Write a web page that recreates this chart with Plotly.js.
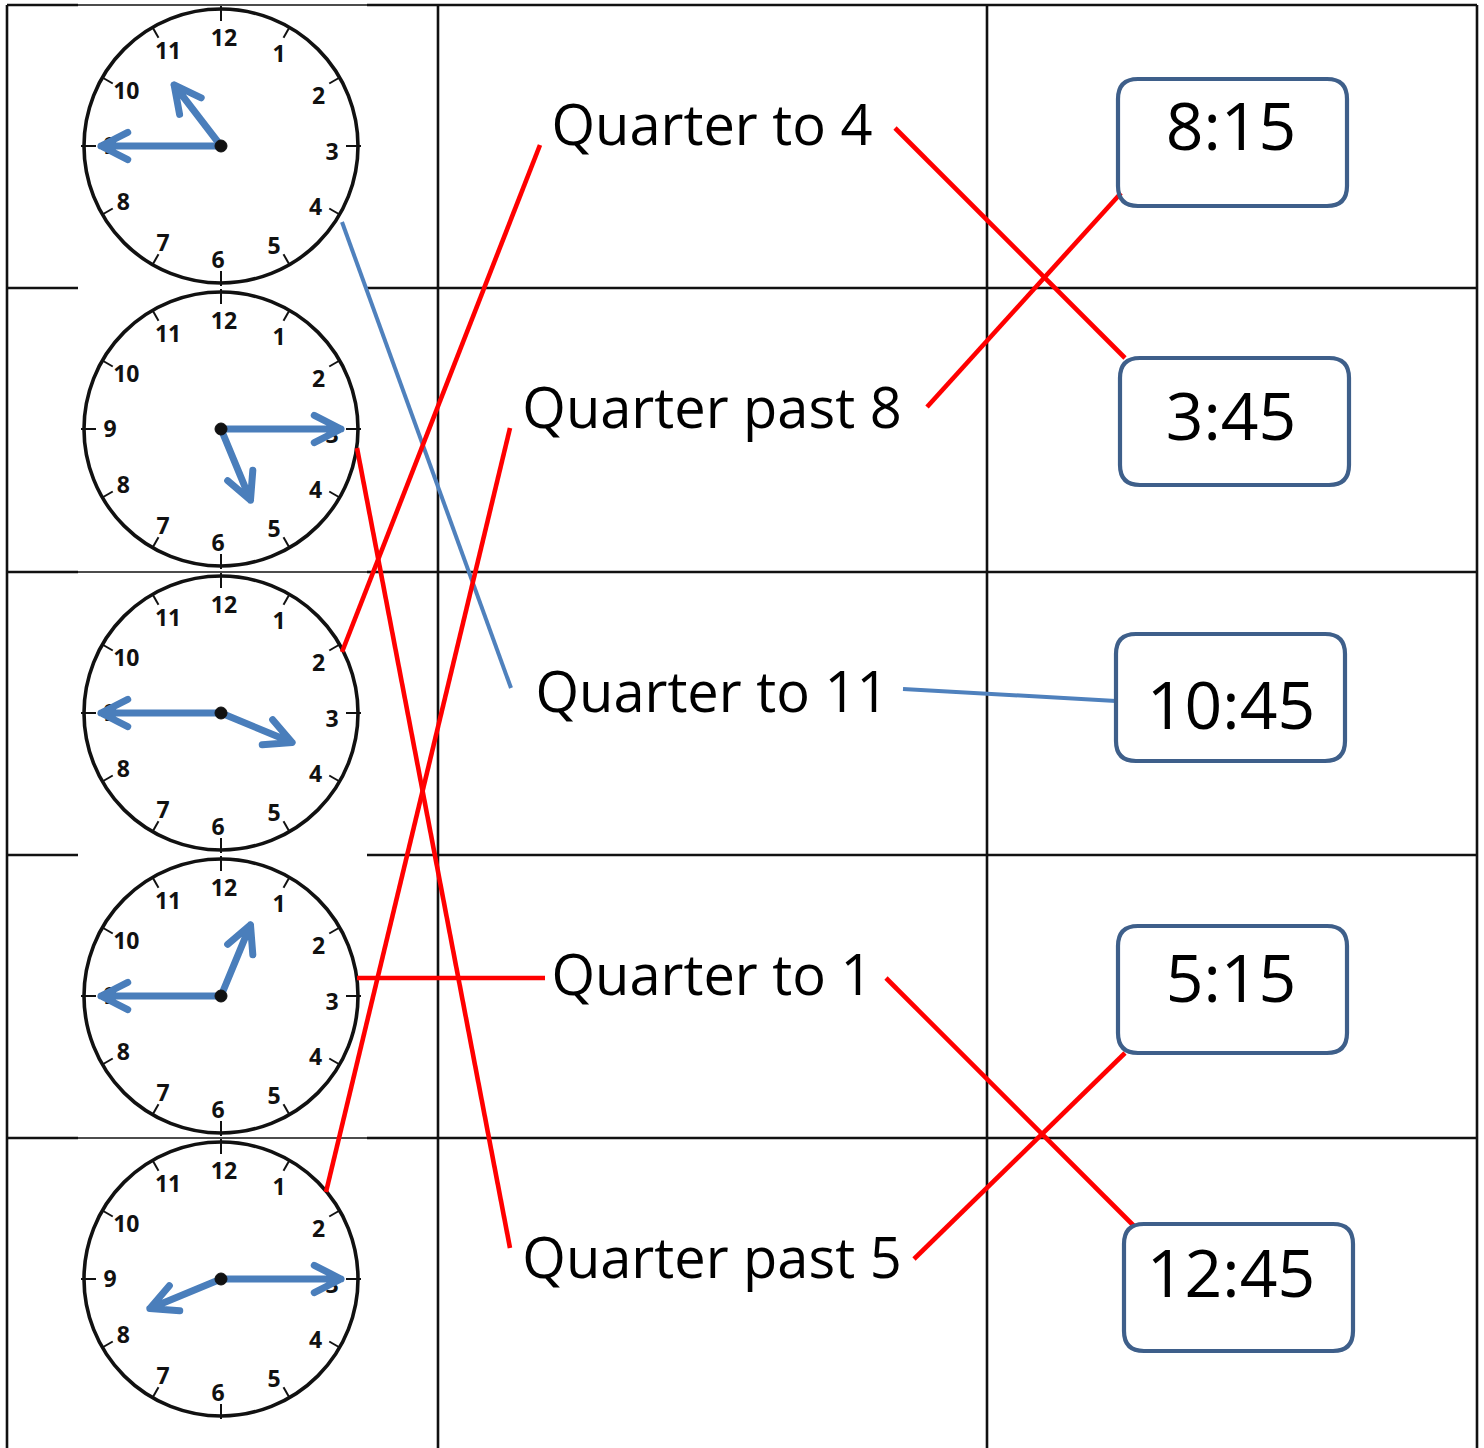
<!DOCTYPE html>
<html>
<head>
<meta charset="utf-8">
<script src="https://cdn.plot.ly/plotly-3.0.1.min.js"></script>
<style>html,body{margin:0;padding:0;background:#fff;}</style>
</head>
<body>
<div id="chart" style="width:1484px;height:1448px;"></div>
<script>
// ---------------- data ----------------
const clockHours   = [10, 5, 3, 12, 8];
const clockMinutes = [45, 15, 45, 45, 15];
const dialNumbers  = [12, 1, 2, 3, 4, 5, 6, 7, 8, 9, 10, 11];
const phrases      = ["Quarter to 4", "Quarter past 8", "Quarter to 11", "Quarter to 1", "Quarter past 5"];
const digitalTimes = ["8:15", "3:45", "10:45", "5:15", "12:45"];
const clockToPhrase = [2, 4, 0, 3, 1];   // clock row -> phrase row
const phraseToTime  = [1, 0, 2, 4, 3];   // phrase row -> digital time row
const exampleClock  = 0;                 // the worked example (drawn in blue)

// ---------------- geometry / style ----------------
const W = 1484, H = 1448;
const rowTops = [5, 288, 572, 855, 1138];
const colX = [7, 438, 987, 1477];
const clockCx = 221, clockDy = 141, clockR = 137;
const clockImgX = [78, 367];
const thinRows = [0, 2, 4];
const numR = 111, numShift = 1.5, textShift = 5;
const minuteLen = 120, hourLen = 77, barbLen = 30, barbDeg = 27;
const phraseX = 712, phraseDy = 121;
const boxX0 = [1118, 1120, 1116, 1118, 1124];
const boxY0 = [79, 358, 634, 926, 1224];
const boxW = 229, boxH = 127, boxRad = 20;
const labelX = 1231;
const labelDy = [49, 60, 73, 54, 51];
// link anchors
const clockAnchor = [[121, 76], [136, 19], [121, -61], [136, -18], [105, -87]];
const phraseLeft  = [[540, 140], [510, 140], [511, 116], [545, 123], [510, 110]];
const phraseRight = [[895, 123], [927, 119], [903, 117], [886, 123], [914, 121]];
const boxAnchor   = [[3, 114], [5, 0], [0, 67], [7, 127], [10, 2]];

const BLACK = '#111111';
const HAND = '#4A7EBB';
const RED = '#FF0000';
const BLUE = '#4F81BD';
const BOX = '#3E5F8A';

const shapes = [];
function line(x0, y0, x1, y1, color, width) {
  shapes.push({type: 'line', xref: 'x', yref: 'y', x0, y0, x1, y1,
    line: {color, width}});
}

// table grid
colX.forEach(x => line(x, rowTops[0], x, H, BLACK, 2.6));
rowTops.forEach((y, i) => {
  line(colX[0], y, clockImgX[0], y, BLACK, 2.6);
  line(clockImgX[1], y, colX[3], y, BLACK, 2.6);
  if (thinRows.includes(i)) line(clockImgX[0], y, clockImgX[1], y, BLACK, 1.3);
});

// clocks
const numX = [], numY = [], numT = [];
function pt(cx, cy, deg, r) {
  const a = deg * Math.PI / 180;
  return [cx + r * Math.sin(a), cy - r * Math.cos(a)];
}
function handPath(cx, cy, deg, len) {
  const [tx, ty] = pt(cx, cy, deg, len);
  const a = deg * Math.PI / 180;
  const ux = -Math.sin(a), uy = Math.cos(a);
  const p = barbDeg * Math.PI / 180;
  const b = s => [tx + barbLen * (ux * Math.cos(s * p) - uy * Math.sin(s * p)),
                  ty + barbLen * (ux * Math.sin(s * p) + uy * Math.cos(s * p))];
  const b1 = b(1), b2 = b(-1);
  return `M${cx},${cy} L${tx},${ty} M${b1[0]},${b1[1]} L${tx},${ty} L${b2[0]},${b2[1]}`;
}
clockHours.forEach((h, i) => {
  const cx = clockCx, cy = rowTops[i] + clockDy;
  shapes.push({type: 'circle', xref: 'x', yref: 'y',
    x0: cx - clockR, x1: cx + clockR, y0: cy - clockR, y1: cy + clockR,
    line: {color: BLACK, width: 3.6}, fillcolor: 'rgba(0,0,0,0)'});
  dialNumbers.forEach(n => {
    const deg = (n % 12) * 30;
    const [ax, ay] = pt(cx, cy, deg, 125);
    const [bx, by] = pt(cx, cy, deg, (n % 3 === 0) ? 140 : 137);
    line(ax, ay, bx, by, BLACK, 2);
    const [tx, ty] = pt(cx, cy, deg + numShift, numR);
    numX.push(tx); numY.push(ty + textShift); numT.push(String(n));
  });
  const m = clockMinutes[i];
  const hourDeg = ((h % 12) + m / 60) * 30;
  const minDeg = m * 6;
  shapes.push({type: 'path', xref: 'x', yref: 'y', path: handPath(cx, cy, hourDeg, hourLen),
    line: {color: HAND, width: 7}});
  shapes.push({type: 'path', xref: 'x', yref: 'y', path: handPath(cx, cy, minDeg, minuteLen),
    line: {color: HAND, width: 7}});
  shapes.push({type: 'circle', xref: 'x', yref: 'y',
    x0: cx - 6, x1: cx + 6, y0: cy - 6, y1: cy + 6,
    line: {color: BLACK, width: 1}, fillcolor: BLACK});
});

// links clock -> phrase
clockToPhrase.forEach((p, i) => {
  const cx = clockCx + clockAnchor[i][0], cy = rowTops[i] + clockDy + clockAnchor[i][1];
  const px = phraseLeft[p][0], py = rowTops[p] + phraseLeft[p][1];
  const blue = i === exampleClock;
  line(cx, cy, px, py, blue ? BLUE : RED, blue ? 4 : 4.6);
});
// links phrase -> time box
const examplePhrase = clockToPhrase[exampleClock];
phraseToTime.forEach((t, p) => {
  const px = phraseRight[p][0], py = rowTops[p] + phraseRight[p][1];
  const bx = boxX0[t] + boxAnchor[t][0], by = boxY0[t] + boxAnchor[t][1];
  const blue = p === examplePhrase;
  line(px, py, bx, by, blue ? BLUE : RED, blue ? 4 : 4.6);
});

// time boxes
digitalTimes.forEach((t, i) => {
  const x0 = boxX0[i], y0 = boxY0[i], x1 = x0 + boxW, y1 = y0 + boxH, r = boxRad;
  const path = `M${x0 + r},${y0} L${x1 - r},${y0} Q${x1},${y0} ${x1},${y0 + r} L${x1},${y1 - r} ` +
    `Q${x1},${y1} ${x1 - r},${y1} L${x0 + r},${y1} Q${x0},${y1} ${x0},${y1 - r} L${x0},${y0 + r} Q${x0},${y0} ${x0 + r},${y0} Z`;
  shapes.push({type: 'path', xref: 'x', yref: 'y', path,
    line: {color: BOX, width: 4.2}, fillcolor: 'rgba(0,0,0,0)'});
});

const traces = [
  {type: 'scatter', mode: 'text', x: numX, y: numY, text: numT,
   textposition: 'middle center', cliponaxis: false, hoverinfo: 'skip', showlegend: false,
   textfont: {family: 'Open Sans', size: 23, color: '#111111', weight: 'bold'}},
  {type: 'scatter', mode: 'text', x: phrases.map(() => phraseX),
   y: phrases.map((_, i) => rowTops[i] + phraseDy + textShift), text: phrases,
   textposition: 'middle center', cliponaxis: false, hoverinfo: 'skip', showlegend: false,
   textfont: {family: 'Open Sans', size: 56, color: '#000000'}},
  {type: 'scatter', mode: 'text', x: digitalTimes.map(() => labelX),
   y: digitalTimes.map((_, i) => boxY0[i] + labelDy[i] + textShift), text: digitalTimes,
   textposition: 'middle center', cliponaxis: false, hoverinfo: 'skip', showlegend: false,
   textfont: {family: 'Open Sans', size: 66, color: '#000000'}}
];

const layout = {
  width: W, height: H,
  margin: {l: 0, r: 0, t: 0, b: 0},
  paper_bgcolor: '#ffffff', plot_bgcolor: '#ffffff',
  showlegend: false,
  xaxis: {range: [0, W], visible: false, fixedrange: true},
  yaxis: {range: [H, 0], visible: false, fixedrange: true},
  shapes
};

Plotly.newPlot('chart', traces, layout, {staticPlot: true, displayModeBar: false}).then(() => {
  document.querySelectorAll('.shapelayer path').forEach(p => {
    if (p.style.stroke === 'rgb(74, 126, 187)') {
      p.style.strokeLinecap = 'round';
      p.style.strokeLinejoin = 'round';
    }
  });
});
</script>
</body>
</html>
